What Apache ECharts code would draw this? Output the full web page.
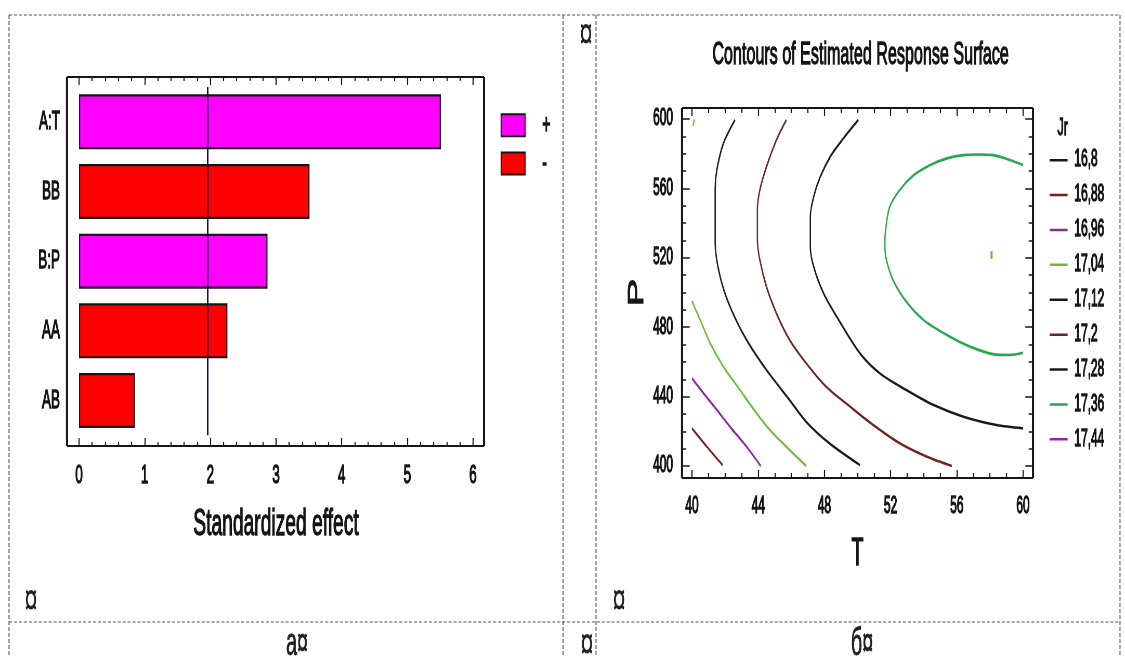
<!DOCTYPE html>
<html>
<head>
<meta charset="utf-8">
<script src="https://cdn.jsdelivr.net/npm/echarts/dist/echarts.min.js"></script>
<style>
html, body { margin:0; padding:0; overflow:hidden; background:#fff; width:1125px; height:657px; }
#c { width:2164px; height:657px; transform: scaleX(0.519870610); transform-origin: 0 0; }
</style>
</head>
<body>
<div id="c"></div>
<script>
// ---------- data ----------
const effects = ['A:T', 'BB', 'B:P', 'AA', 'AB'];
const effectPlus = [5.51, null, 2.87, null, null];
const effectMinus = [null, 3.51, null, 2.26, 0.85];
const critT = 1.96;

const levels = ['16,8', '16,88', '16,96', '17,04', '17,12', '17,2', '17,28', '17,36', '17,44'];

const c1688 = [[40.0, 421.7], [40.9, 411.1], [41.85, 400.5]];
const c1696 = [[40.0, 450.5], [40.7, 441.9], [41.5, 432.3], [42.3, 422.6], [43.3, 411.1], [44.15, 400.0]];
const c1704a = [[40.0, 495.0], [40.5, 484.0], [41.1, 470.7], [41.9, 457.2], [42.9, 443.8], [43.9, 430.4], [44.7, 420.8], [45.7, 411.1], [46.9, 400.0]];
const c1704b = [[40.05, 596.0], [40.15, 599.8]];
const c1712 = [[42.6, 599.5], [41.9, 586.0], [41.5, 570.6], [41.4, 560.0], [41.4, 528.3], [41.7, 509.1], [42.3, 491.8], [43.3, 472.6], [44.5, 455.3], [45.9, 438.0], [46.9, 425.5], [48.3, 413.1], [50.15, 400.5]];
const c1720 = [[45.7, 599.5], [45.1, 587.9], [44.5, 572.5], [44.1, 559.1], [43.95, 547.5], [43.95, 530.3], [44.1, 518.7], [44.5, 503.3], [45.1, 488.0], [45.9, 472.6], [46.9, 459.2], [48.1, 445.7], [49.55, 434.2], [50.95, 423.6], [52.55, 413.1], [54.2, 405.3], [55.7, 400.0]];
const c1728 = [[50.05, 599.5], [49.15, 588.9], [48.35, 578.3], [47.75, 566.7], [47.35, 555.2], [47.15, 543.7], [47.15, 526.4], [47.35, 514.9], [47.95, 499.5], [48.75, 486.0], [50.15, 464.9], [51.35, 453.4], [52.95, 443.8], [54.6, 435.1], [56.4, 428.4], [58.4, 423.6], [60.0, 421.7]];
const c1736 = [[60.0, 573.5], [59.2, 576.4], [58.2, 579.2], [57.3, 579.5], [56.4, 579.2], [55.4, 577.3], [54.4, 573.5], [53.4, 567.7], [52.55, 559.1], [51.95, 549.5], [51.75, 539.9], [51.65, 528.3], [51.75, 518.7], [52.15, 507.2], [52.95, 494.7], [54.0, 484.1], [55.4, 475.5], [56.8, 468.8], [58.2, 464.5], [59.2, 464.0], [60.0, 465.3]];
const cPeak = [[58.1, 523.8], [58.1, 519.4]];

const contourSegments = {
  '16,8': [],
  '16,88': [c1688],
  '16,96': [c1696],
  '17,04': [c1704a, c1704b],
  '17,12': [c1712],
  '17,2': [c1720],
  '17,28': [c1728],
  '17,36': [c1736],
  '17,44': []
};

// ---------- style ----------
const S = 1125 / 2164;          // horizontal squash of the whole picture
const X = v => v / S;           // final px -> pre-squash px
const FONT = 'Liberation Sans, Arial, sans-serif';
const INK = '#151515';
const TB = { fontWeight: 'normal', textBorderColor: INK, textBorderWidth: 1.3 };   // slightly heavier strokes
const levelColor = {
  '16,8': '#1a1a1a', '16,88': '#732222', '16,96': '#8e2a9e', '17,04': '#6cbf35',
  '17,12': '#1a1a1a', '17,2': '#732222', '17,28': '#1a1a1a', '17,36': '#25a84a', '17,44': '#8e2a9e'
};
const ts = (size, extra) => Object.assign({ fontSize: size, color: INK, fontFamily: FONT }, TB, extra || {});

const chart = echarts.init(document.getElementById('c'), null, { renderer: 'canvas' });

const hideLine = { show: false };
function xTicks(major, minor, split) {
  return {
    axisLine: hideLine,
    axisTick: { show: true, inside: true, length: major, lineStyle: { color: INK, width: 2.2 } },
    minorTick: { show: true, splitNumber: split, length: minor, lineStyle: { color: INK, width: 2.2 } },
    splitLine: { show: false }, minorSplitLine: { show: false }
  };
}
function yTicks(major, minor, split) {
  return {
    axisLine: hideLine,
    axisTick: { show: true, inside: true, length: X(major), lineStyle: { color: INK, width: 1.5 } },
    minorTick: { show: true, splitNumber: split, length: X(minor), lineStyle: { color: INK, width: 1.5 } },
    splitLine: { show: false }, minorSplitLine: { show: false }
  };
}

const series = [];
series.push({
  name: '+', type: 'bar', xAxisIndex: 0, yAxisIndex: 0, data: effectPlus,
  barWidth: 55, barGap: '-100%',
  itemStyle: { color: '#ff00ff', borderColor: INK, borderWidth: 2.2 },
  markLine: {
    silent: true, symbol: 'none', label: { show: false },
    lineStyle: { color: '#101050', width: 3, type: 'solid' },
    data: [{ xAxis: critT }]
  }
});
series.push({
  name: '-', type: 'bar', xAxisIndex: 0, yAxisIndex: 0, data: effectMinus,
  barWidth: 55, barGap: '-100%',
  itemStyle: { color: '#ff0000', borderColor: INK, borderWidth: 2.2 }
});
levels.forEach(lv => {
  const segs = contourSegments[lv];
  const list = segs.length ? segs : [[]];
  list.forEach(seg => {
    series.push({
      name: lv, type: 'line', xAxisIndex: 2, yAxisIndex: 1, data: seg,
      symbol: 'none', smooth: 0.3, silent: true,
      itemStyle: { color: levelColor[lv] },
      lineStyle: { color: levelColor[lv], width: 2.6 }
    });
  });
});
series.push({
  name: 'peak', type: 'line', xAxisIndex: 2, yAxisIndex: 1, data: cPeak,
  symbol: 'none', silent: true,
  itemStyle: { color: levelColor['17,04'] }, lineStyle: { color: levelColor['17,04'], width: 4 }
});

// decorative frames and the dashed table
const graphics = [];
function hLine(x1, x2, y, w, dash) {
  graphics.push({ type: 'line', silent: true, shape: { x1: X(x1), y1: y, x2: X(x2), y2: y },
    style: { stroke: dash ? '#555' : INK, lineWidth: w, lineDash: dash || null } });
}
function vLine(x, y1, y2, w, dash) {
  graphics.push({ type: 'line', silent: true, shape: { x1: X(x), y1: y1, x2: X(x), y2: y2 },
    style: { stroke: dash ? '#555' : INK, lineWidth: w, lineDash: dash || null } });
}
function frame(l, t, r, b) {
  hLine(l, r, t, 2.2); hLine(l, r, b, 2.2);
  vLine(l, t, b, 4); vLine(r, t, b, 4);
}
frame(67, 77, 484, 446);
frame(682, 108, 1033, 478);
const hDash = [6, 3.5], vDash = [4, 2];
hLine(9, 1120, 15, 1, hDash);
hLine(9, 1120, 622, 1, hDash);
[9, 563, 596, 1120].forEach(x => vLine(x, 15, 657, 2, vDash));
function txt(s, x, y, size, lw) {
  graphics.push({ type: 'text', silent: true, x: X(x), y: y,
    style: { text: s, fontSize: size, fontFamily: FONT, fill: '#222', stroke: '#222', lineWidth: lw,
      align: 'center', verticalAlign: 'middle' } });
}
txt('¤', 586, 36, 46, 0);
txt('¤', 31, 602, 46, 0);
txt('¤', 619, 602, 46, 0);
txt('а¤', 297, 645, 38, 0.8);
txt('¤', 587, 646, 46, 0);
txt('б¤', 862, 645, 38, 0.8);

chart.setOption({
  animation: false,
  backgroundColor: '#fff',
  textStyle: { fontFamily: FONT, color: INK },
  title: [
    { text: 'Contours of Estimated Response Surface', left: X(858), top: 35, textAlign: 'center',
      textStyle: ts(31) },
    { text: 'Jr', left: X(1055), top: 111, textStyle: ts(24) }
  ],
  legend: [
    { data: ['+', '-'], orient: 'vertical', left: X(498), top: 106, selectedMode: false,
      icon: 'rect', itemWidth: X(24), itemHeight: 22, itemGap: 10,
      itemStyle: { borderColor: INK, borderWidth: 2 },
      textStyle: ts(27, { padding: [0, 0, 0, 28] }) },
    { data: levels, orient: 'vertical', left: X(1047), top: 143, selectedMode: false,
      icon: 'rect', itemWidth: X(18), itemHeight: 2.5, itemGap: 10.6,
      textStyle: ts(23, { lineHeight: 24, padding: [0, 0, 0, 8] }) }
  ],
  grid: [
    { left: X(79), top: 87, width: X(473) - X(79), height: 348.35 },
    { left: X(692), top: 119, width: X(1023) - X(692), height: 347 }
  ],
  xAxis: [
    Object.assign({ gridIndex: 0, type: 'value', min: 0, max: 6, interval: 1, position: 'bottom', offset: 10.65,
      axisLabel: ts(26, { margin: 17 }),
      name: 'Standardized effect', nameLocation: 'middle', nameGap: 60,
      nameTextStyle: ts(37) }, xTicks(8, 4, 5)),
    Object.assign({ gridIndex: 0, type: 'value', min: 0, max: 6, interval: 1, position: 'top', offset: 10,
      axisLabel: { show: false } }, xTicks(8, 4, 5)),
    Object.assign({ gridIndex: 1, type: 'value', min: 40, max: 60, interval: 4, position: 'bottom', offset: 12,
      axisLabel: ts(23, { margin: 17 }),
      name: 'T', nameLocation: 'middle', nameGap: 58,
      nameTextStyle: ts(38) }, xTicks(8, 5, 4)),
    Object.assign({ gridIndex: 1, type: 'value', min: 40, max: 60, interval: 4, position: 'top', offset: 11,
      axisLabel: { show: false } }, xTicks(8, 5, 4))
  ],
  yAxis: [
    { gridIndex: 0, type: 'category', inverse: true, data: effects,
      axisLine: hideLine, axisTick: { show: false }, splitLine: { show: false },
      axisLabel: ts(26, { margin: X(19) }) },
    Object.assign({ gridIndex: 1, type: 'value', min: 400, max: 600, interval: 40, position: 'left', offset: X(10),
      axisLabel: ts(23, { margin: X(9) }),
      name: 'P', nameLocation: 'middle', nameRotate: 90, nameGap: X(34),
      nameTextStyle: ts(42) }, yTicks(7.7, 4.3, 4)),
    Object.assign({ gridIndex: 1, type: 'value', min: 400, max: 600, interval: 40, position: 'right', offset: X(10),
      axisLabel: { show: false } }, yTicks(7.7, 4.3, 4))
  ],
  graphic: graphics,
  series: series
});
</script>
</body>
</html>
